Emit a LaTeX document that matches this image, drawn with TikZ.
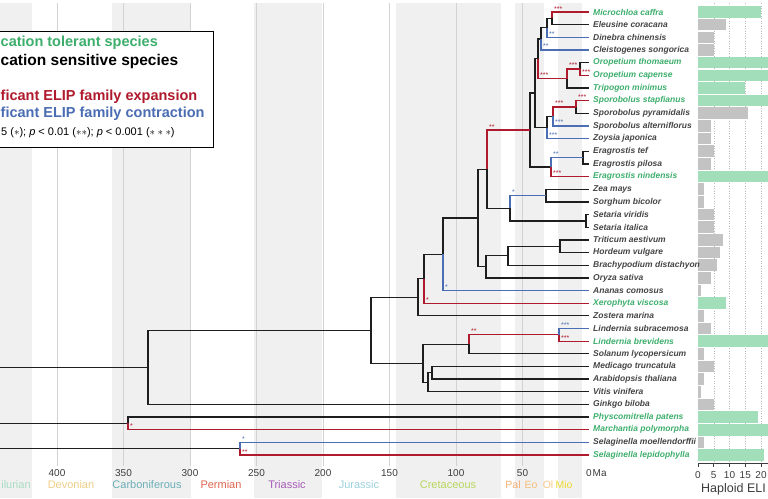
\documentclass[tikz,border=0pt]{standalone}
\usepackage{fontspec}
\setmainfont{Liberation Sans}

\definecolor{brblack}{HTML}{1E1E1E}
\definecolor{expred}{HTML}{B01A2D}
\definecolor{conblue}{HTML}{4A6DB3}
\definecolor{tolgreen}{HTML}{3DAE6C}
\definecolor{sengrey}{HTML}{444444}
\definecolor{tolfill}{HTML}{A2DEBA}
\definecolor{senfill}{HTML}{C3C3C3}
\definecolor{bandgrey}{HTML}{F0F0F0}
\definecolor{gridgrey}{HTML}{D2D2D2}
\definecolor{axisgrey}{HTML}{3C3C3C}
\definecolor{silcol}{HTML}{A9DCC3}
\definecolor{devcol}{HTML}{EBCF86}
\definecolor{carcol}{HTML}{6AAEB6}
\definecolor{percol}{HTML}{E0654F}
\definecolor{tricol}{HTML}{A65BB8}
\definecolor{jurcol}{HTML}{9CD2DC}
\definecolor{crecol}{HTML}{B8D65C}
\definecolor{palcol}{HTML}{F4AE72}
\definecolor{eocol}{HTML}{F6BE78}
\definecolor{olcol}{HTML}{F8C688}
\definecolor{miocol}{HTML}{EEDB2E}

\begin{document}
\begin{tikzpicture}
[x=1pt,y=-1pt,
  branch/.style={line width=1.3pt,draw=brblack},
  expbranch/.style={line width=1.3pt,draw=expred},
  conbranch/.style={line width=1.3pt,draw=conblue},
  sigexp/.style={text=expred,font=\fontsize{7}{7}\selectfont,inner sep=0pt,anchor=base west,xshift=1.5pt,yshift=1pt},
  sigcon/.style={sigexp,text=conblue},
  tiplab/.style={font=\fontsize{8.5}{8.5}\selectfont\bfseries\itshape,anchor=west,inner sep=0pt},
  labtol/.style={text=tolgreen},
  labsen/.style={text=sengrey},
  bartol/.style={fill=tolfill},
  barsen/.style={fill=senfill},
  legtxt/.style={font=\fontsize{14.5}{14.5}\selectfont\bfseries,anchor=west,inner sep=0pt},
  ticklab/.style={font=\fontsize{10}{10}\selectfont,text=axisgrey,inner sep=0pt},
  periodlab/.style={font=\fontsize{11}{11}\selectfont,inner sep=0pt},
  epochlab/.style={font=\fontsize{10.5}{10.5}\selectfont,inner sep=0pt}]
\useasboundingbox (0,0) rectangle (768,498);
%% geological bands and time grid
\foreach \older/\younger in {443/419, 359/299, 252/201, 145/66, 56/34, 23/5.3}
{
  \fill[bandgrey] ({589-1.33*\older},3) rectangle ({589-1.33*\younger},498);
}
\foreach \ma in {50,100,...,400}
{
  \draw[gridgrey,line width=0.6pt] ({589-1.33*\ma},3) -- ({589-1.33*\ma},466);
  \node[ticklab] (tick\ma) at ({589-1.33*\ma},473) {\ma};
}
\node[ticklab] (tick0) at (589,473) {0};
\node[ticklab,anchor=west] (tickMa) at (592.5,473) {Ma};
%% period names
\foreach \period/\x/\col in {
  ilurian/16/silcol, Devonian/71/devcol, Carboniferous/147/carcol,
  Permian/221/percol, Triassic/287/tricol, Jurassic/359/jurcol,
  Cretaceous/448/crecol}
{
  \node[periodlab,text=\col] (per\period) at (\x,485) {\period};
}
\foreach \epoch/\x/\col in {Pal/513/palcol, Eo/531/eocol, Ol/548/olcol, Mio/564/miocol}
{
  \node[epochlab,text=\col] (per\epoch) at (\x,485) {\epoch};
}
%% bar panel grid
\foreach \v in {5,10,15,20}
{
  \draw[gray!55,line width=0.5pt,dotted] ({698+3.15*\v},3) -- ({698+3.15*\v},463);
}
%% tips, labels and ELIP counts
\foreach \i/\taxon/\kind/\val in {
  1/Microchloa caffra/tol/20, 2/Eleusine coracana/sen/9,
  3/Dinebra chinensis/sen/5, 4/Cleistogenes songorica/sen/5,
  5/Oropetium thomaeum/tol/22.3, 6/Oropetium capense/tol/22.3,
  7/Tripogon minimus/tol/15, 8/Sporobolus stapfianus/tol/22.3,
  9/Sporobolus pyramidalis/sen/16, 10/Sporobolus alterniflorus/sen/4,
  11/Zoysia japonica/sen/4, 12/Eragrostis tef/sen/5,
  13/Eragrostis pilosa/sen/4, 14/Eragrostis nindensis/tol/22.3,
  15/Zea mays/sen/2, 16/Sorghum bicolor/sen/2,
  17/Setaria viridis/sen/5, 18/Setaria italica/sen/5,
  19/Triticum aestivum/sen/8, 20/Hordeum vulgare/sen/7,
  21/Brachypodium distachyon/sen/6, 22/Oryza sativa/sen/4,
  23/Ananas comosus/sen/1, 24/Xerophyta viscosa/tol/9,
  25/Zostera marina/sen/2, 26/Lindernia subracemosa/sen/4,
  27/Lindernia brevidens/tol/22.3, 28/Solanum lycopersicum/sen/2,
  29/Medicago truncatula/sen/5, 30/Arabidopsis thaliana/sen/2,
  31/Vitis vinifera/sen/1, 32/Ginkgo biloba/sen/5,
  33/Physcomitrella patens/tol/19, 34/Marchantia polymorpha/tol/22.3,
  35/Selaginella moellendorffii/sen/2, 36/Selaginella lepidophylla/tol/21}
{
  \pgfmathsetmacro\yy{12+(\i-1)*12.66}
  \coordinate (t\i) at (589,\yy);
  \fill[bar\kind] (698,\yy-5.8) rectangle ({698+3.15*\val},\yy+5.8);
  \node[tiplab,lab\kind] (lab\i) at (593,\yy) {\taxon};
}
%% bar axis
\draw[axisgrey,line width=0.6pt] (698,463) -- (768,463);
\foreach \v in {0,5,10,15,20}
{
  \draw[axisgrey,line width=0.6pt] ({698+3.15*\v},463) -- ({698+3.15*\v},467);
  \node[ticklab] (bartick\v) at ({698+3.15*\v},475) {\v};
}
\node[font=\fontsize{12.5}{12.5}\selectfont,text=axisgrey,anchor=west,inner sep=0pt] (barTitle) at (701,489) {Haploid ELI};
%% internal nodes
\foreach \nodename/\x/\y in {
  nME/552/18.35, nMED/547/27.8, nA/541/38.9, nOro/580/68.95, nOT/567/78.5,
  nB/538/58.7, nSSP/576/106.95, nSpA/553/116.4, nC/547/127.5, nD/535/93.1,
  nEtp/583/157.6, nErag/551/167.1, nE/530/130.1, nZS/546/195.55,
  nSet/586/220.9, nG/510/208.2, nF/487/169.2, nTH/560/246.2, nBTH/508/255.7,
  nBOP/486/266.75, nH/478/218.0, nI/443/254.25, nJ/424/278.7, nK/418/297.25,
  nLind/559/334.8, nN/469/344.3, nMA/432/372.8, nMAV/428/382.3, nM/423/363.3,
  nL/371/330.3, nO/148/367.35, nP/128/423.45, nQ/240/448.75,
  rO/0/367.35, rP/0/423.45, rQ/0/448.75}
{
  \coordinate (\nodename) at (\x,\y);
}
%% edges
\foreach \startnode/\endnode in {
  nME/t2, nMED/nME, nA/nMED, nB/nA, nOro/t5, nOT/t7, nD/nB, nSSP/t9,
  nC/nSpA, nD/nC, nE/nD, nE/nErag, nEtp/t12, nEtp/t13, nF/nG, nZS/t15,
  nZS/t16, nG/nSet, nSet/t17, nSet/t18, nTH/t19, nTH/t20, nBTH/nTH,
  nBTH/t21, nBOP/nBTH, nBOP/t22, nH/nF, nH/nBOP, nI/nH, nJ/nI, nK/nJ,
  nK/t25, nN/t28, nMA/t29, nMA/t30, nMAV/nMA, nMAV/t31, nM/nN, nM/nMAV,
  nL/nK, nL/nM, nO/nL, nO/t32, nP/t33, rO/nO, rP/nP, rQ/nQ}
{
  \draw[branch] (\startnode) |- (\endnode);
}
\foreach \startnode/\endnode/\sig in {
  nME/t1/***, nB/nOT/***, nOT/nOro/***, nOro/t6/***, nSSP/t8/***,
  nSpA/nSSP/***, nErag/t14/***, nF/nE/**, nJ/t24/*, nLind/t27/***,
  nN/nLind/**, nP/t34/*, nQ/t36/**}
{
  \draw[expbranch] (\startnode) |- node[pos=0.5,sigexp] {\sig} (\endnode);
}
\foreach \startnode/\endnode/\sig in {
  nMED/t3/**, nA/t4/**, nSpA/t10/***, nC/t11/***, nErag/nEtp/**,
  nG/nZS/*, nI/t23/*, nLind/t26/***, nQ/t35/*}
{
  \draw[conbranch] (\startnode) |- node[pos=0.5,sigcon] {\sig} (\endnode);
}
%% legend
\fill[white] (0,31) rectangle (213,147);
\draw[black,line width=0.8pt] (0,31) -- (213,31) -- (213,147) -- (0,147);
\node[legtxt,text=tolgreen] (legTol) at (0.5,43) {cation tolerant species};
\node[legtxt,text=black,font=\fontsize{15.5}{15.5}\selectfont\bfseries] (legSen) at (0.5,61) {cation sensitive species};
\node[legtxt,text=expred] (legExp) at (0.5,97) {ficant ELIP family expansion};
\node[legtxt,text=conblue] (legCon) at (0.5,114) {ficant ELIP family contraction};
\node[font=\fontsize{11}{11}\selectfont,anchor=west,inner sep=0pt] (legP) at (1,133)
  {5 ($\ast$); \textit{p} < 0.01 ($\ast\ast$); \textit{p} < 0.001 ($\ast\ast\ast$)};
\end{tikzpicture}
\end{document}
